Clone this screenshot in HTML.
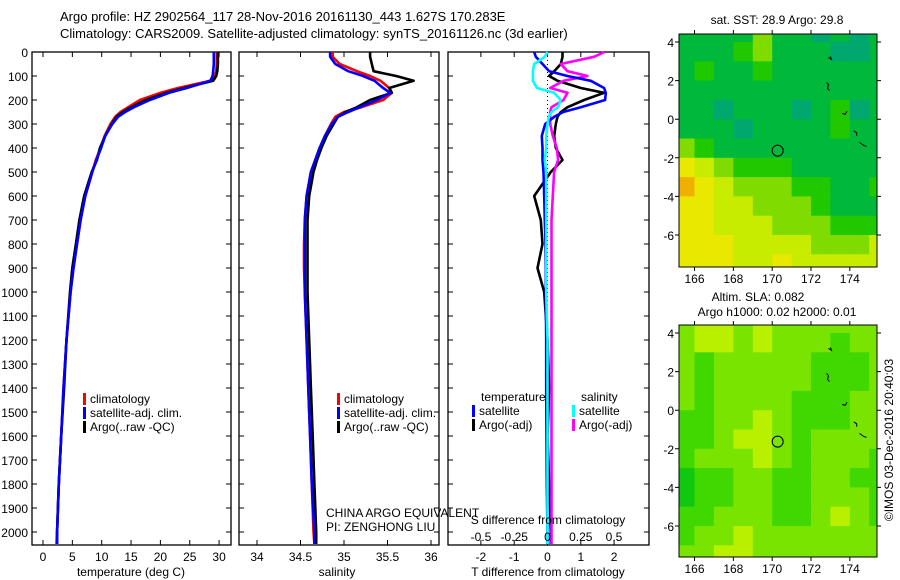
<!DOCTYPE html>
<html><head><meta charset="utf-8"><title>Argo profile</title>
<style>
html,body{margin:0;padding:0;background:#fff;}
svg{display:block;font-family:"Liberation Sans",sans-serif;}
text{fill:#000;}
</style></head>
<body>
<svg id="fig" width="900" height="580" viewBox="0 0 900 580">
<text x="60" y="21" font-size="13">Argo profile: HZ 2902564_117 28-Nov-2016 20161130_443 1.627S 170.283E</text>
<text x="60" y="38" font-size="13">Climatology: CARS2009. Satellite-adjusted climatology: synTS_20161126.nc (3d earlier)</text>
<g id="g"></g>
</svg>
<script>
// ---- data ----
const depths = [0,20,50,80,100,120,150,170,200,230,250,270,300,350,400,450,500,600,700,800,900,1000,1200,1400,1600,1800,2000,2050];
const tempClim = [29.6,29.6,29.6,29.5,29.3,28.5,23,20,16.5,14.5,13.2,12.3,11.5,10.5,9.8,9,8.4,7.2,6.4,5.8,5.2,4.7,4.0,3.5,3.1,2.7,2.4,2.3];
const tempSat  = [29.1,29.1,29.1,29.0,28.9,28.5,24.5,21.5,18.2,15.5,14,12.8,11.8,10.6,9.9,9.1,8.4,7.2,6.4,5.8,5.2,4.7,4.0,3.5,3.1,2.7,2.4,2.4];
const tempArgo = [29.8,29.8,29.8,29.7,29.5,29,24,21,17.5,15,13.6,12.5,11.7,10.6,9.7,9.2,8.3,7.0,6.2,5.6,5.0,4.6,4.0,3.6,3.1,2.7,2.4,2.4];
const salClim = [34.87,34.87,34.95,35.15,35.3,35.42,35.52,35.55,35.45,35.2,35.0,34.9,34.85,34.78,34.72,34.67,34.62,34.57,34.55,34.54,34.54,34.55,34.57,34.59,34.61,34.63,34.65,34.66];
const salSat  = [34.84,34.84,34.9,35.05,35.22,35.35,35.45,35.53,35.38,35.18,35.05,34.93,34.86,34.78,34.72,34.67,34.62,34.57,34.55,34.55,34.55,34.55,34.57,34.59,34.61,34.63,34.66,34.66];
const salArgo = [35.3,35.3,35.32,35.34,35.6,35.8,35.52,35.55,35.3,35.15,35.02,34.93,34.88,34.8,34.74,34.69,34.65,34.6,34.58,34.58,34.58,34.58,34.6,34.62,34.64,34.66,34.68,34.68];
const tDiffSat  = [-0.4,-0.35,-0.15,0.05,0.6,1.3,1.7,1.75,1.73,1.0,0.47,0.2,-0.07,-0.17,-0.15,-0.15,-0.12,-0.1,-0.08,-0.06,-0.05,-0.05,-0.04,-0.04,-0.03,-0.02,0,0];
const tDiffArgo = [0.45,0.45,0.4,0.2,0.05,0.3,1.0,1.7,1.1,0.6,0.4,0.3,0.25,0.2,0.25,0.45,0.1,-0.4,-0.2,-0.15,-0.3,-0.1,0,0.05,0,0.05,0.1,0.1];
const sDiffSat  = [0,-0.02,-0.1,-0.11,-0.11,-0.11,-0.08,0.05,0.1,0.08,0.03,0.01,0,-0.01,-0.01,-0.02,-0.01,-0.01,-0.01,-0.01,-0.01,-0.01,0,0,0,0,0,0];
const sDiffArgo = [0.43,0.35,0.1,0.15,0.3,0.12,0.02,0.15,0.12,0.03,0.02,0.02,0.02,0.04,0.07,0.08,0.05,0.04,0.03,0.03,0.03,0.03,0.03,0.03,0.03,0.03,0.03,0.03];
const depthTicks = [0,100,200,300,400,500,600,700,800,900,1000,1100,1200,1300,1400,1500,1600,1700,1800,1900,2000];
const tempTicks = [0,5,10,15,20,25,30];
const salTicks = [34,34.5,35,35.5,36];
const tdTicks = [-2,-1,0,1,2];
const sdTicks = [-0.5,-0.25,0,0.25,0.5];
const latTicks = [4,2,0,-2,-4,-6];
const lonTicks = [166,168,170,172,174];
// SST map 1-degree grid, rows lat 5..-8, cols lon 165..176 (colour class)
const sstGrid = [
[1,1,1,1,3,1,1,0,1,0,1],
[1,1,1,2,3,1,1,1,0,0,1],
[1,2,1,1,2,1,1,1,1,1,1],
[1,1,1,1,1,1,1,1,1,1,1],
[1,1,0,1,1,1,0,1,2,0,1],
[1,1,1,0,1,1,1,1,2,1,1],
[3,2,1,1,1,1,1,1,1,1,1],
[5,4,3,2,2,2,1,1,1,1,1],
[6,5,4,3,3,3,2,2,1,1,2],
[5,5,4,4,3,3,3,2,1,1,1],
[5,5,4,4,4,3,3,3,2,2,2],
[5,5,5,4,4,4,4,3,3,3,4],
[5,5,5,4,4,5,4,4,4,4,4]];
const slaGrid = [
[3,4,4,3,4,3,3,3,3,3,3],
[3,4,4,3,4,3,3,3,2,3,3],
[3,2,3,3,3,3,3,2,2,2,3],
[3,2,3,3,3,3,3,2,2,2,3],
[3,2,3,3,3,3,2,2,2,3,3],
[2,2,3,3,4,3,2,2,2,3,3],
[2,2,3,4,4,3,2,3,3,3,3],
[2,3,3,3,4,3,2,3,3,3,2],
[1,2,2,3,3,2,2,3,3,2,2],
[1,2,2,3,3,2,2,3,3,3,2],
[2,2,3,3,3,2,2,3,4,3,2],
[2,3,3,4,3,3,3,3,3,3,3],
[3,3,4,4,3,3,3,3,3,3,3]];
const sstColors = ['#00a870','#00b83a','#20c800','#80dc00','#c8ec00','#e8e800','#f0b000'];
const slaColors = ['#00c020','#10c810','#40d800','#78e400','#b8f000'];
const argoLon = 170.283, argoLat = -1.627;

// ---- helpers ----
const NS='http://www.w3.org/2000/svg';
const G=document.getElementById('g');
function mk(tag,attrs,parent){const e=document.createElementNS(NS,tag);for(const k in attrs)e.setAttribute(k,attrs[k]);(parent||G).appendChild(e);return e;}
const y0=52, y1=545;
const yD = d => y0 + d*0.24;

function panel(name,x0,x1,xs,ticks,fmt,showDepth){
  const r=mk('rect',{x:x0,y:y0,width:x1-x0,height:y1-y0,fill:'none',stroke:'#000','stroke-width':1.3});
  
  
  depthTicks.forEach(d=>{
    const t=mk('path',{d:`M${x0} ${yD(d)}h5M${x1} ${yD(d)}h-5`,stroke:'#000'});
    
    
    if(showDepth){
      const l=mk('text',{x:28,y:yD(d)+5,'font-size':12,'text-anchor':'end'});l.textContent=d;
      
      
    }
  });
  ticks.forEach(v=>{
    const t=mk('path',{d:`M${xs(v)} ${y0}v5M${xs(v)} ${y1}v-5`,stroke:'#000'});
    
    
    if(fmt){const l=mk('text',{x:xs(v),y:561,'font-size':12,'text-anchor':'middle'});l.textContent=fmt(v);
      
      }
  });
}
function line(name,xs,vals,color,w){
  const p=mk('polyline',{points:vals.map((v,i)=>xs(v).toFixed(1)+','+yD(depths[i]).toFixed(1)).join(' '),fill:'none',stroke:color,'stroke-width':w||2.6,'stroke-linejoin':'round'});
  
  
}
function txt(name,x,y,s,size,anchor){const t=mk('text',{x:x,y:y,'font-size':size||12,'text-anchor':anchor||'start'});t.textContent=s;
  
  return t;}
function legend(name,x,y,color,s){const r=mk('rect',{x:x,y:y-10,width:3,height:12,fill:color});
  
  
  txt(name,x+7,y,s,12);}

// Panel 1: temperature
const xT = v => 43 + v*5.87;
panel('temperature-panel',32,231,xT,tempTicks,v=>v,true);
line('temperature-climatology-line',xT,tempClim,'#ff0000');
line('temperature-argo-line',xT,tempArgo,'#000000');
line('temperature-satellite-line',xT,tempSat,'#0000ff');
txt('temperature-axis-title',131,576,'temperature (deg C)',12,'middle');
legend('legend-climatology',83,403,'#ff0000','climatology');
legend('legend-satellite-adj',83,417,'#0000ff','satellite-adj. clim.');
legend('legend-argo-raw',83,431,'#000000','Argo(..raw -QC)');

// Panel 2: salinity
const xS = v => 257 + (v-34)*87;
panel('salinity-panel',239,439,xS,salTicks,v=>v,false);
line('salinity-climatology-line',xS,salClim,'#ff0000');
line('salinity-argo-line',xS,salArgo,'#000000');
line('salinity-satellite-line',xS,salSat,'#0000ff');
txt('salinity-axis-title',337,576,'salinity',12,'middle');
legend('legend2-climatology',337,403,'#ff0000','climatology');
legend('legend2-satellite-adj',337,417,'#0000ff','satellite-adj. clim.');
legend('legend2-argo-raw',337,431,'#000000','Argo(..raw -QC)');
txt('pi-institution',326,517,'CHINA ARGO EQUIVALENT',12);
txt('pi-name',326,531,'PI: ZENGHONG LIU',12);

// Panel 3: differences
const xTD = v => 547.5 + v*33.3;
const xSD = v => 547.5 + v*133;
panel('difference-panel',448,649,xTD,tdTicks,v=>v,false);
const dz=mk('line',{x1:547.5,y1:y0,x2:547.5,y2:y1,stroke:'#000','stroke-dasharray':'1,3'});


line('t-diff-argo-line',xTD,tDiffArgo,'#000000');
line('s-diff-argo-line',xSD,sDiffArgo,'#ff00ff');
line('t-diff-satellite-line',xTD,tDiffSat,'#0000ff');
line('s-diff-satellite-line',xSD,sDiffSat,'#00ffff');
sdTicks.forEach(v=>txt('s-diff-tick-label',xSD(v),541,v,12,'middle'));
txt('s-diff-axis-title',548,524,'S difference from climatology',12,'middle');
txt('t-diff-axis-title',548,576,'T difference from climatology',12,'middle');
txt('legend3-temperature-header',481,401,'temperature',12);
txt('legend3-salinity-header',581,401,'salinity',12);
legend('legend3-t-satellite',472,415,'#0000ff','satellite');
legend('legend3-t-argo',472,429,'#000000','Argo(-adj)');
legend('legend3-s-satellite',572,415,'#00ffff','satellite');
legend('legend3-s-argo',572,429,'#ff00ff','Argo(-adj)');

// Maps
function map(name,top,bottom,grid,colors){
  const x0=679,x1=877;
  const lon0=165.2,lon1=175.4;
  const lat4y=top+8, dlat=(bottom===267?19.3:19.3);
  const xL = lo => x0 + (lo-lon0)*(x1-x0)/(lon1-lon0);
  const yL = la => lat4y + (4-la)*dlat;
  const cid='clip-'+name;
  const cp=mk('clipPath',{id:cid});mk('rect',{x:x0,y:top,width:x1-x0,height:bottom-top},cp);
  const g=mk('g',{'clip-path':`url(#${cid})`});
  
  
  grid.forEach((row,ri)=>row.forEach((c,ci)=>{
    const la=5-ri, lo=165+ci;
    const r=mk('rect',{x:xL(lo).toFixed(1),y:yL(la).toFixed(1),width:(xL(lo+1)-xL(lo)+0.6).toFixed(1),height:(dlat+0.6).toFixed(1),fill:colors[c]},g);
    
    
  }));
  // island outlines
  const isl=mk('path',{d:`M${xL(172.9)} ${yL(3.2)}l3 2l-1 -3M${xL(172.8)} ${yL(1.9)}l2 2l-1 4l2 2M${xL(173.6)} ${yL(0.3)}l3 1l2 -3M${xL(174.2)} ${yL(-0.6)}l3 2l0 3M${xL(174.5)} ${yL(-1.2)}l4 3l3 1`,stroke:'#000',fill:'none','stroke-width':1},g);
  
  
  const c=mk('circle',{cx:xL(argoLon),cy:yL(argoLat),r:5.5,fill:'none',stroke:'#000','stroke-width':1});
  
  
  const f=mk('rect',{x:x0,y:top,width:x1-x0,height:bottom-top,fill:'none',stroke:'#000','stroke-width':1});
  
  
  latTicks.forEach(v=>{
    const t=mk('path',{d:`M${x0} ${yL(v)}h-4M${x1} ${yL(v)}h4`,stroke:'#000'});
    
    
    txt(name+'-lat-label',674,yL(v)+5,v,12,'end');
  });
  lonTicks.forEach(v=>{
    const t=mk('path',{d:`M${xL(v)} ${top}v-4M${xL(v)} ${bottom}v4`,stroke:'#000'});
    
    
    txt(name+'-lon-label',xL(v),bottom+16,v,12,'middle');
  });
}
map('sst-map',34,267,sstGrid,sstColors);
map('sla-map',325,557,slaGrid,slaColors);
txt('sst-map-title',777,24,'sat. SST: 28.9 Argo: 29.8',12,'middle');
txt('sla-map-title',758,301,'Altim. SLA: 0.082',12,'middle');
txt('sla-map-subtitle',777,316,'Argo h1000: 0.02 h2000: 0.01',12,'middle');
const cr=txt('imos-credit',0,0,'©IMOS 03-Dec-2016 20:40:03',12,'middle');
cr.setAttribute('transform','translate(893,440) rotate(-90)');
</script>
</body></html>
